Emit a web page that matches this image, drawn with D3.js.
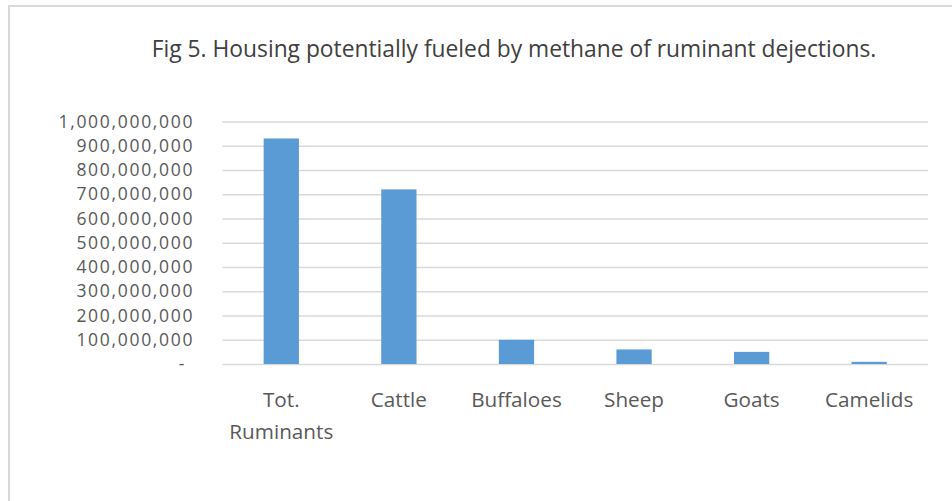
<!DOCTYPE html>
<html><head><meta charset="utf-8">
<script src="https://cdn.jsdelivr.net/npm/d3@7"></script>
<style>body{margin:0;background:#fff;} svg{display:block;}</style>
</head><body>
<svg id="chart" width="952" height="501"></svg>
<script>
const categories = ["Tot. Ruminants", "Cattle", "Buffaloes", "Sheep", "Goats", "Camelids"];
const values = [930000000, 720000000, 100000000, 60000000, 50000000, 9000000];
const tickValues = [0, 100000000, 200000000, 300000000, 400000000, 500000000, 600000000, 700000000, 800000000, 900000000, 1000000000];
const title = "Fig 5. Housing potentially fueled by methane of ruminant dejections.";

(function () {
const svg = d3.select("#chart");
const font = "'Open Sans', sans-serif";
const textColor = "#595959";

svg.append("rect").attr("x", 9).attr("y", 6).attr("width", 1200).attr("height", 1200)
  .attr("fill", "#fff").attr("stroke", "#d9d9d9").attr("stroke-width", 2);

const mLeft = 222.5, mRight = 928, mTop = 121.5, mBottom = 364;
const x = d3.scaleBand().domain(categories).range([mLeft, mRight]).paddingInner(0.7).paddingOuter(0.35);
const y = d3.scaleLinear().domain([0, 1000000000]).range([mBottom, mTop]);

svg.append("text").attr("x", 514).attr("y", 57).attr("text-anchor", "middle")
  .attr("font-family", font).attr("font-size", 22.8).attr("fill", "#404040").text(title);

const yAxis = d3.axisLeft(y).tickValues(tickValues).tickSize(-(mRight - mLeft))
  .tickFormat(d => d === 0 ? "-" : d3.format(",")(d)).tickPadding(30);
const g = svg.append("g").attr("transform", `translate(${mLeft},0)`).call(yAxis);
g.select(".domain").remove();
g.selectAll(".tick line").attr("stroke", "#d9d9d9").attr("stroke-width", 1.5);
g.selectAll(".tick text").attr("font-family", font).attr("font-size", 17.5).attr("fill", textColor)
  .attr("letter-spacing", 1.7)
  .attr("dx", d => d === 0 ? -6.5 : 1.7);

svg.append("g").selectAll("rect").data(values).join("rect")
  .attr("x", (d, i) => x(categories[i]))
  .attr("width", x.bandwidth())
  .attr("y", d => y(d))
  .attr("height", d => y(0) - y(d))
  .attr("fill", "#5b9bd5");

const xl = svg.append("g");
categories.forEach((c, i) => {
  const cx = x(c) + x.bandwidth() / 2;
  const lines = c === "Tot. Ruminants" ? ["Tot.", "Ruminants"] : [c];
  lines.forEach((ln, j) => {
    xl.append("text").attr("x", cx).attr("y", 407 + j * 32).attr("text-anchor", "middle")
      .attr("font-family", font).attr("font-size", 20.7).attr("fill", textColor).text(ln);
  });
});
})();
</script>
</body></html>
